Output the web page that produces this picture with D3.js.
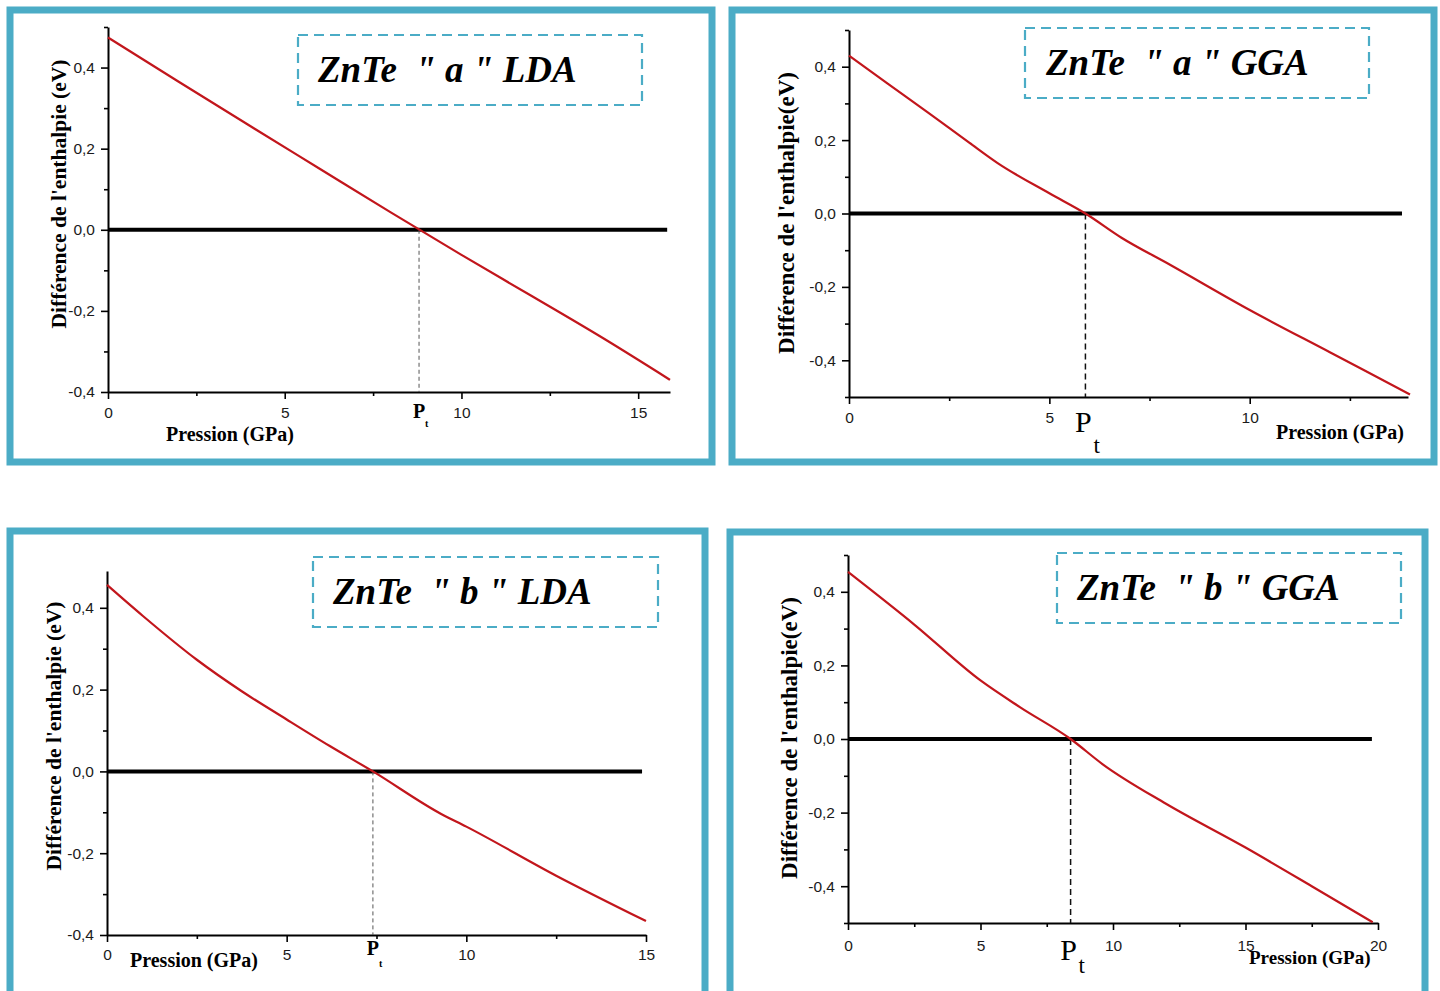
<!DOCTYPE html>
<html>
<head>
<meta charset="utf-8">
<script src="https://d3js.org/d3.v7.min.js"></script>
<style>
  body { margin: 0; background: #fff; }
  svg { display: block; }
  .title { white-space: pre; }
</style>
</head>
<body>
<div id="chart-container"></div>
<script>
// values (pressure in GPa, enthalpy difference in eV)
const pressureLdaA = [0, 2, 4, 6, 8, 10, 12, 14, 15.9]
const enthalpyLdaA = [0.474, 0.365, 0.257, 0.15, 0.043, -0.062, -0.164, -0.267, -0.37]

const pressureGgaA = [0, 1, 2, 3, 3.7, 5, 5.9, 6.8, 8, 10, 12, 14]
const enthalpyGgaA = [0.43, 0.351, 0.273, 0.193, 0.138, 0.055, 0, -0.066, -0.139, -0.263, -0.378, -0.493]

const pressureLdaB = [0, 1, 2.5, 3.75, 5, 6.2, 7.4, 9.3, 10, 12.5, 15]
const enthalpyLdaB = [0.456, 0.38, 0.273, 0.196, 0.127, 0.062, 0, -0.104, -0.135, -0.255, -0.366]

const pressureGgaB = [0, 2.5, 5, 6.5, 8.4, 9.6, 12, 15, 17.5, 19.8]
const enthalpyGgaB = [0.454, 0.311, 0.159, 0.086, 0, -0.068, -0.176, -0.295, -0.4, -0.498]

// transition pressures (dashed line)
const transitionP = [8.8, 5.9, 7.4, 8.4]

const titles = ['ZnTe  " a " LDA', 'ZnTe  " a " GGA', 'ZnTe  " b " LDA', 'ZnTe  " b " GGA']
const yLabels = ["Différence de l'enthalpie (eV)", "Différence de l'enthalpie(eV)",
  "Différence de l'enthalpie (eV)", "Différence de l'enthalpie(eV)"]
const xLabel = 'Pression (GPa)'

const xTicks15 = [0, 5, 10, 15]
const xTicks10 = [0, 5, 10]
const xTicks20 = [0, 5, 10, 15, 20]
const xMinor15 = [2.5, 7.5, 12.5]
const xMinor20 = [2.5, 7.5, 12.5, 17.5]
const yTicks = [-0.4, -0.2, 0, 0.2, 0.4]
const yMinor4 = [-0.3, -0.1, 0.1, 0.3, 0.5]
const yMinor5 = [-0.5, -0.3, -0.1, 0.1, 0.3, 0.5]
const yMinor3 = [-0.3, -0.1, 0.1, 0.3]

// layout of each panel
const panels = [
  {
    pressure: pressureLdaA, enthalpy: enthalpyLdaA, pt: transitionP[0],
    title: titles[0], yLabel: yLabels[0],
    xDomain: [0, 15.9], yDomain: [-0.4, 0.5], zeroEnd: 15.82,
    xTicks: xTicks15, xMinor: xMinor15, yMinor: yMinor4,
    frame: [10, 10, 702, 452],
    plot: {left: 108, right: 670, top: 27, bottom: 392},
    box: [298, 35, 344, 70], titleAt: [318, 82],
    yLabelAt: [66, 194], yLabelSize: 21.5,
    xLabelAt: [166, 441], xLabelSize: 20, xPad: 8,
    ptBold: true, ptP: 26, ptT: 35, ptDash: '4,3', ptColor: '#555', ptWidth: 1
  },
  {
    pressure: pressureGgaA, enthalpy: enthalpyGgaA, pt: transitionP[1],
    title: titles[1], yLabel: yLabels[1],
    xDomain: [0, 13.95], yDomain: [-0.5, 0.5], zeroEnd: 13.8,
    xTicks: xTicks10, xMinor: xMinor15, yMinor: yMinor5,
    frame: [732, 10, 702, 452],
    plot: {left: 849, right: 1408, top: 30, bottom: 397},
    box: [1025, 28, 344, 70], titleAt: [1046, 75],
    yLabelAt: [794, 213], yLabelSize: 23,
    xLabelAt: [1276, 439], xLabelSize: 20, xPad: 8,
    ptBold: false, ptP: 35, ptT: 56, ptDash: '6,4', ptColor: '#111', ptWidth: 1.5
  },
  {
    pressure: pressureLdaB, enthalpy: enthalpyLdaB, pt: transitionP[2],
    title: titles[2], yLabel: yLabels[2],
    xDomain: [0, 15], yDomain: [-0.4, 0.49], zeroEnd: 14.89,
    xTicks: xTicks15, xMinor: xMinor15, yMinor: yMinor3,
    frame: [10, 531, 695, 480],
    plot: {left: 107, right: 646, top: 571, bottom: 935},
    box: [313, 557, 345, 70], titleAt: [333, 604],
    yLabelAt: [61, 736], yLabelSize: 21.5,
    xLabelAt: [130, 967], xLabelSize: 20, xPad: 7,
    ptBold: true, ptP: 20, ptT: 32, ptDash: '4,3', ptColor: '#555', ptWidth: 1
  },
  {
    pressure: pressureGgaB, enthalpy: enthalpyGgaB, pt: transitionP[3],
    title: titles[3], yLabel: yLabels[3],
    xDomain: [0, 20], yDomain: [-0.5, 0.5], zeroEnd: 19.77,
    xTicks: xTicks20, xMinor: xMinor20, yMinor: yMinor5,
    frame: [730, 532, 695, 480],
    plot: {left: 848, right: 1378, top: 555, bottom: 923},
    box: [1057, 553, 344, 70], titleAt: [1077, 600],
    yLabelAt: [797, 738], yLabelSize: 23,
    xLabelAt: [1249, 964], xLabelSize: 19, xPad: 10,
    ptBold: false, ptP: 37, ptT: 50, ptDash: '6,4', ptColor: '#111', ptWidth: 1.5
  }
]

const frameColor = '#4bacc6'
const curveColor = '#c2161c'
const serif = "'Liberation Serif', 'Times New Roman', serif"
const sans = "'Liberation Sans', Arial, sans-serif"

const fmt = d3.formatLocale({decimal: ',', thousands: ' ', grouping: [3], currency: ['', ''], minus: '-'}).format('.1f')

const svg = d3.select('#chart-container')
  .append('svg')
  .attr('width', 1440)
  .attr('height', 991)

svg.append('rect').attr('width', 1440).attr('height', 991).attr('fill', '#fff')

panels.forEach(p => drawPanel(p))

function drawPanel (p) {
  // outer frame
  svg.append('rect')
    .attr('x', p.frame[0]).attr('y', p.frame[1])
    .attr('width', p.frame[2]).attr('height', p.frame[3])
    .attr('fill', 'none')
    .attr('stroke', frameColor)
    .attr('stroke-width', 7)

  const x = d3.scaleLinear().domain(p.xDomain).range([p.plot.left, p.plot.right])
  const y = d3.scaleLinear().domain(p.yDomain).range([p.plot.bottom, p.plot.top])

  const g = svg.append('g')

  // minor ticks
  g.append('g')
    .attr('transform', `translate(0, ${p.plot.bottom})`)
    .call(d3.axisBottom(x).tickValues(p.xMinor).tickSize(4).tickFormat(''))
    .call(a => a.select('.domain').remove())
  g.append('g')
    .attr('transform', `translate(${p.plot.left}, 0)`)
    .call(d3.axisLeft(y).tickValues(p.yMinor).tickSize(4).tickFormat(''))
    .call(a => a.select('.domain').remove())

  // main axes
  const xAxisG = g.append('g')
    .attr('transform', `translate(0, ${p.plot.bottom})`)
    .call(d3.axisBottom(x).tickValues(p.xTicks).tickSize(7).tickSizeOuter(0)
      .tickPadding(p.xPad).tickFormat(d3.format('d')))
  const yAxisG = g.append('g')
    .attr('transform', `translate(${p.plot.left}, 0)`)
    .call(d3.axisLeft(y).tickValues(yTicks).tickSize(7).tickSizeOuter(0)
      .tickPadding(6).tickFormat(fmt))

  g.selectAll('.tick line').attr('stroke', '#000').attr('stroke-width', 1.6)
  g.selectAll('.domain').attr('stroke', '#000').attr('stroke-width', 2)
  ;[xAxisG, yAxisG].forEach(a => a.selectAll('text')
    .attr('fill', '#1a1a1a')
    .style('font-family', sans)
    .style('font-size', '15.5px'))

  // zero line
  g.append('line')
    .attr('x1', x(0)).attr('x2', x(p.zeroEnd))
    .attr('y1', y(0)).attr('y2', y(0))
    .attr('stroke', '#000')
    .attr('stroke-width', 4)

  // transition pressure
  g.append('line')
    .attr('x1', x(p.pt)).attr('x2', x(p.pt))
    .attr('y1', y(0)).attr('y2', y(p.yDomain[0]))
    .attr('stroke', p.ptColor)
    .attr('stroke-width', p.ptWidth)
    .attr('stroke-dasharray', p.ptDash)

  // enthalpy difference curve
  const line = d3.line()
    .x((d, i) => x(p.pressure[i]))
    .y(d => y(d))
    .curve(d3.curveMonotoneX)
  g.append('path')
    .datum(p.enthalpy)
    .attr('d', line)
    .attr('fill', 'none')
    .attr('stroke', curveColor)
    .attr('stroke-width', 2.2)

  // P_t label
  if (p.ptBold) {
    g.append('text')
      .attr('x', x(p.pt)).attr('y', p.plot.bottom + p.ptP)
      .attr('text-anchor', 'middle')
      .style('font-family', serif).style('font-weight', 'bold').style('font-size', '20px')
      .text('P')
    g.append('text')
      .attr('x', x(p.pt) + 6).attr('y', p.plot.bottom + p.ptT)
      .style('font-family', serif).style('font-weight', 'bold').style('font-size', '10px')
      .text('t')
  } else {
    g.append('text')
      .attr('x', x(p.pt) - 2).attr('y', p.plot.bottom + p.ptP)
      .attr('text-anchor', 'middle')
      .style('font-family', serif).style('font-size', '30px')
      .text('P')
    g.append('text')
      .attr('x', x(p.pt) + 8).attr('y', p.plot.bottom + p.ptT)
      .style('font-family', serif).style('font-size', '23px')
      .text('t')
  }

  // axis titles
  g.append('text')
    .attr('x', p.xLabelAt[0]).attr('y', p.xLabelAt[1])
    .style('font-family', serif).style('font-weight', 'bold').style('font-size', p.xLabelSize + 'px')
    .text(xLabel)
  g.append('text')
    .attr('transform', `translate(${p.yLabelAt[0]}, ${p.yLabelAt[1]}) rotate(-90)`)
    .attr('text-anchor', 'middle')
    .style('font-family', serif).style('font-weight', 'bold').style('font-size', p.yLabelSize + 'px')
    .text(p.yLabel)

  // title box
  g.append('rect')
    .attr('x', p.box[0]).attr('y', p.box[1])
    .attr('width', p.box[2]).attr('height', p.box[3])
    .attr('fill', 'none')
    .attr('stroke', frameColor)
    .attr('stroke-width', 2.2)
    .attr('stroke-dasharray', '10,6')
  g.append('text')
    .attr('class', 'title')
    .attr('x', p.titleAt[0]).attr('y', p.titleAt[1])
    .style('font-family', serif).style('font-weight', 'bold').style('font-style', 'italic')
    .style('font-size', '37px')
    .text(p.title)
}
</script>
</body>
</html>
